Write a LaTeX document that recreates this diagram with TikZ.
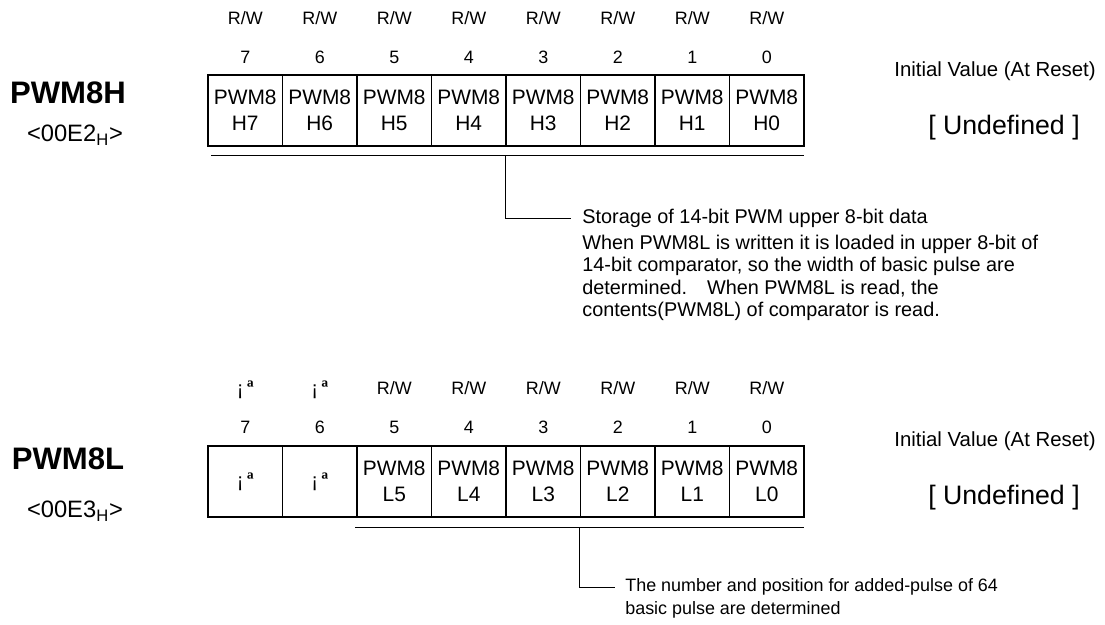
\documentclass[tikz,border=0pt]{standalone}
\usepackage{fontspec}
\setmainfont{Liberation Sans}
\newfontfamily\markfont{Liberation Serif}
\usepackage{tikz}

\newcommand{\nobit}{\fontsize{11.5}{12}\selectfont¡\,{\markfont\bfseries\fontsize{12.5}{12.5}\selectfont ª}}

\begin{document}
\begin{tikzpicture}[x=0.02cm,y=-0.02cm,
  regcell/.style={draw,line width=0.8pt,minimum width=1.49cm,minimum height=1.42cm,
    inner sep=0pt,align=center,font=\fontsize{11.9}{14.7}\selectfont},
  acclabel/.style={font=\fontsize{10.2}{12}\selectfont},
  regname/.style={font=\fontsize{17.7}{20}\selectfont\bfseries},
  regaddr/.style={font=\fontsize{13.5}{15}\selectfont},
  initcap/.style={font=\fontsize{11.6}{14}\selectfont},
  initval/.style={font=\fontsize{15.2}{18}\selectfont},
  desc/.style={font=\fontsize{11.3}{12.6}\selectfont,align=left,inner sep=0pt},
  smalldesc/.style={font=\fontsize{10.2}{12}\selectfont,inner sep=0pt},
  thinline/.style={line width=0.5pt}]
  \useasboundingbox (0,0) rectangle (1105,625);

  % upper register: PWM8H
  \node[regname] (hname) at (68,93) {PWM8H};
  \node[regaddr] (haddr) at (75,135) {<00E2\textsubscript{H}>};
  \foreach \b [count=\i from 0] in {7,...,0} {
    \node[acclabel] (hacc\b) at ({245.25+74.5*\i},18) {R/W};
    \node[acclabel] (hbit\b) at ({245.25+74.5*\i},57) {\b};
    \node[regcell] (h\b) at ({245.25+74.5*\i},110.5) {PWM8\\H\b};
  }
  \node[initcap] (hinitcap) at (995,71) {Initial Value (At Reset)};
  \node[initval] (hinit) at (1004,128) {[ Undefined ]};
  \draw[thinline] (211,155) -- (804,155);
  \coordinate (hbar) at (505,155);
  \node[desc,anchor=west] (hstore) at (582,218) {Storage of 14-bit PWM upper 8-bit data};
  \node[desc,anchor=north west] (hnote) at (582,235)
    {When PWM8L is written it is loaded in upper 8-bit of\\
     14-bit comparator, so the width of basic pulse are\\
     determined.\quad When PWM8L is read, the\\
     contents(PWM8L) of comparator is read.};
  \draw[thinline] (hbar) |- ([xshift=-6.2pt]hstore.west);

  % lower register: PWM8L
  \node[regname] (lname) at (68,459) {PWM8L};
  \node[regaddr] (laddr) at (75,511) {<00E3\textsubscript{H}>};
  \foreach \b [count=\i from 0] in {7,6} {
    \node[acclabel] (lacc\b) at ({245.25+74.5*\i},390) {\nobit};
    \node[acclabel] (lbit\b) at ({245.25+74.5*\i},427) {\b};
    \node[regcell] (l\b) at ({245.25+74.5*\i},481.5) {\nobit};
  }
  \foreach \b [count=\i from 2] in {5,...,0} {
    \node[acclabel] (lacc\b) at ({245.25+74.5*\i},388) {R/W};
    \node[acclabel] (lbit\b) at ({245.25+74.5*\i},427) {\b};
    \node[regcell] (l\b) at ({245.25+74.5*\i},481.5) {PWM8\\L\b};
  }
  \node[initcap] (linitcap) at (995,441) {Initial Value (At Reset)};
  \node[initval] (linit) at (1004,498) {[ Undefined ]};
  \draw[thinline] (355,527) -- (804,527);
  \coordinate (lbar) at (579,527);
  \node[smalldesc,anchor=west] (lstore) at (625,587) {The number and position for added-pulse of 64};
  \node[smalldesc,anchor=base west] (lnote) at ([yshift=-13pt]lstore.base west) {basic pulse are determined};
  \draw[thinline] (lbar) |- ([xshift=-5.7pt]lstore.west);
\end{tikzpicture}
\end{document}
